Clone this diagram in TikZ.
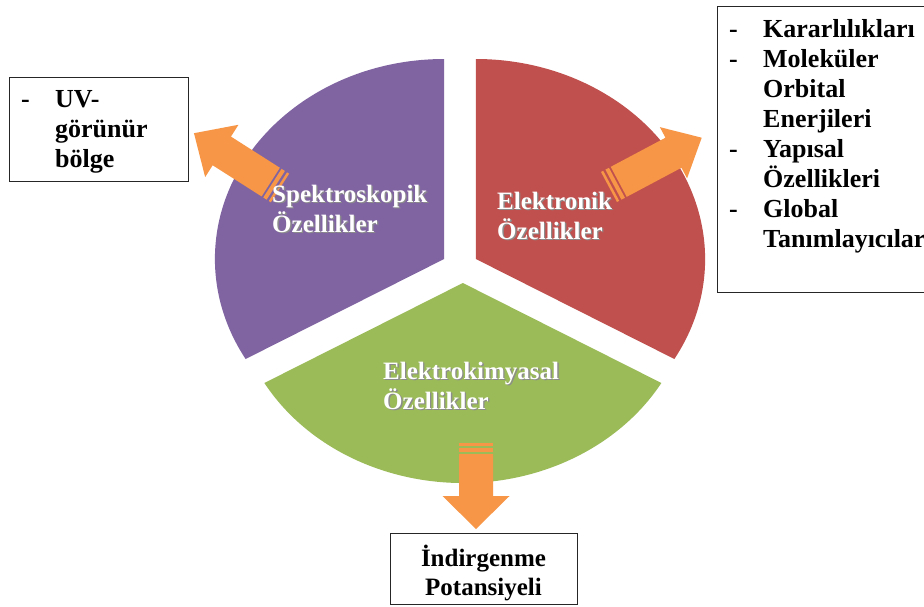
\documentclass[tikz,border=0pt]{standalone}
\usepackage{fontspec}
\setmainfont{Liberation Serif}

\definecolor{pieviolet}{HTML}{8064A2}
\definecolor{piered}{HTML}{C0504D}
\definecolor{piegreen}{HTML}{9BBB59}
\definecolor{arroworange}{HTML}{F79646}

% white label text with a soft dark drop shadow
\newcommand\shtext[1]{\leavevmode\rlap{\kern1.3pt\raisebox{-1.3pt}{\color{black!45}#1}}#1}

% striped block arrow: tail x, tail y, direction, length, head width, head length
\newcommand\stripedarrow[6]{%
  \begin{scope}[shift={(#1,#2)}, rotate=#3]
    \fill[arroworange] (0,-17) rectangle (2.5,17);
    \fill[arroworange] (5,-17) rectangle (9,17);
    \fill[arroworange] (11,-17) -- (#4-#6,-17) -- (#4-#6,-#5/2) -- (#4,0)
      -- (#4-#6,#5/2) -- (#4-#6,17) -- (11,17) -- cycle;
  \end{scope}}

\tikzset{
  infobox/.style={draw=black!85, line width=1.3pt, fill=white, anchor=north west, inner sep=0pt},
  listtext/.style={anchor=north west, inner sep=0pt, font=\fontsize{26}{30}\selectfont\bfseries},
  pielabel/.style={anchor=north west, inner sep=0pt, text=white, font=\fontsize{25}{30}\selectfont\bfseries}
}

\begin{document}
\begin{tikzpicture}[x=1pt, y=1pt]
  \useasboundingbox (0,0) rectangle (924,-606);
  \fill[white] (0,0) rectangle (924,-606);

  % the three exploded pie segments
  \begin{scope}[shift={(460,-267)}, xscale=1.146]
    \fill[pieviolet] (-13.86,8) -- ++(90:200) arc[start angle=90, end angle=210, radius=200] -- cycle;
    \fill[piered] (13.86,8) -- ++(-30:200) arc[start angle=-30, end angle=90, radius=200] -- cycle;
    \fill[piegreen] (2.5,-16) -- ++(210:200) arc[start angle=210, end angle=330, radius=200] -- cycle;
  \end{scope}

  % result boxes
  \node[infobox, minimum width=179pt, minimum height=104pt] (uvbox) at (9,-77) {};
  \node[infobox, minimum width=230pt, minimum height=286pt] (elbox) at (717,-6) {};
  \node[infobox, minimum width=187pt, minimum height=71pt] (redbox) at (390,-533) {};

  % striped arrows from the segments to their boxes
  \stripedarrow{280}{-188}{147.5}{102}{62}{33}
  \stripedarrow{609}{-187}{28}{105}{58}{32}
  \stripedarrow{476}{-443}{-90}{86}{67}{33}

  % segment titles
  \node[pielabel] (spek) at (272,-181) {\begin{tabular}{@{}l@{}}\shtext{Spektroskopik}\\ \shtext{Özellikler}\end{tabular}};
  \node[pielabel] (elek) at (497,-188) {\begin{tabular}{@{}l@{}}\shtext{Elektronik}\\ \shtext{Özellikler}\end{tabular}};
  \node[pielabel] (kimya) at (383,-358) {\begin{tabular}{@{}l@{}}\shtext{Elektrokimyasal}\\ \shtext{Özellikler}\end{tabular}};

  % box contents
  \node[listtext] (uvtext) at (21,-86) {\begin{tabular}{@{}p{34pt}@{}l@{}}
    - & UV-\\ & görünür\\ & bölge\end{tabular}};
  \node[listtext] (eltext) at (729,-16) {\begin{tabular}{@{}p{34pt}@{}l@{}}
    - & Kararlılıkları\\
    - & Moleküler\\ & Orbital\\ & Enerjileri\\
    - & Yapısal\\ & Özellikleri\\
    - & Global\\ & Tanımlayıcılar\end{tabular}};
  \node[anchor=north, inner sep=0pt, font=\fontsize{25}{28.5}\selectfont\bfseries] (redtext) at (483.5,-545)
    {\begin{tabular}{@{}c@{}}İndirgenme\\ Potansiyeli\end{tabular}};
\end{tikzpicture}
\end{document}
